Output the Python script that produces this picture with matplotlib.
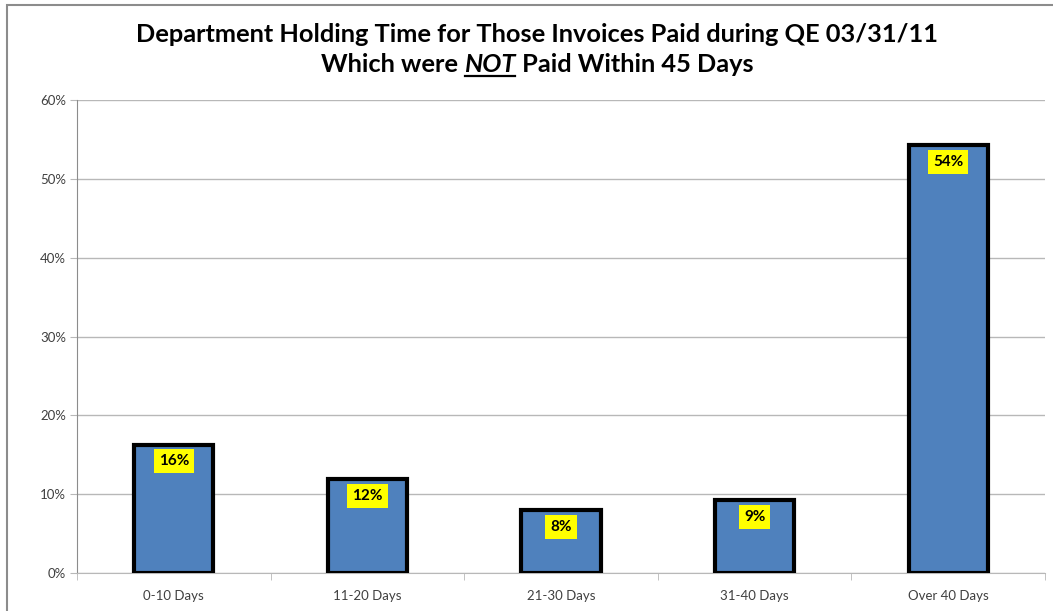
import matplotlib.pyplot as plt
from matplotlib.patches import Rectangle
from matplotlib.ticker import PercentFormatter

# datos del grafico
categorias = ['0-10 Days', '11-20 Days', '21-30 Days', '31-40 Days', 'Over 40 Days']
valores = [16.3, 11.9, 8.0, 9.2, 54.3]
etiquetas = ['16%', '12%', '8%', '9%', '54%']

plt.rcParams['font.family'] = ['Lato', 'DejaVu Sans']

fig = plt.figure(figsize=(10.53, 6.11), dpi=100)
ax = fig.add_axes([77 / 1053, 1 - 573 / 611, (1045 - 77) / 1053, (573 - 100) / 611])

# borde exterior del grafico
fig.patches.append(Rectangle((7 / 1053, -0.05), 1.1, 1 - 5.5 / 611 + 0.05,
                             transform=fig.transFigure, fill=False,
                             edgecolor='#8c8c8c', linewidth=1.5))

x = range(len(categorias))
ax.bar(x, valores, width=0.41, color='#4F81BD', edgecolor='black', linewidth=3, zorder=3)

for i, (v, t) in enumerate(zip(valores, etiquetas)):
    ax.annotate(t, (i, v), xytext=(0, -7), textcoords='offset points',
                ha='center', va='top', fontsize=11, fontweight='bold', color='black',
                bbox=dict(boxstyle='square,pad=0.32', facecolor='#FFFF00', edgecolor='none'),
                zorder=4)

ax.set_xlim(-0.5, len(categorias) - 0.5)
ax.set_ylim(0, 60)
ax.set_yticks(range(0, 61, 10))
ax.yaxis.set_major_formatter(PercentFormatter(decimals=0))
ax.set_xticks(list(x))
ax.set_xticklabels(categorias)
ax.set_xticks([i + 0.5 for i in range(-1, len(categorias))], minor=True)

ax.grid(axis='y', color='#b8b8b8', linewidth=1, zorder=0)
for s in ['top', 'right']:
    ax.spines[s].set_visible(False)
ax.spines['left'].set_color('#8c8c8c')
ax.spines['bottom'].set_color('#b8b8b8')
ax.tick_params(axis='y', length=5, color='#b8b8b8', labelsize=9.5, labelcolor='#404040', pad=3)
ax.tick_params(axis='x', which='major', length=0, labelsize=9.5, labelcolor='#404040', pad=12)
ax.tick_params(axis='x', which='minor', length=5, color='#b8b8b8')

# titulo, la segunda linea por partes para poder subrayar NOT
fig.text(537 / 1053, 1 - 34 / 611, 'Department Holding Time for Those Invoices Paid during QE 03/31/11',
         ha='center', va='center', fontsize=18.3, fontweight='bold')

fig.canvas.draw()
r = fig.canvas.get_renderer()
partes = [('Which were ', 'normal'), ('NOT', 'italic'), (' Paid Within 45 Days', 'normal')]
textos = [fig.text(0, 0, p, fontsize=18.3, fontweight='bold', style=st, va='center') for p, st in partes]
anchos = [t.get_window_extent(r).width for t in textos]
total = sum(anchos)
xpix = 537 - total / 2
ypix = 611 - 64
for t, w in zip(textos, anchos):
    t.set_position((xpix / 1053, ypix / 611))
    xpix += w
# subrayado
x0 = 537 - total / 2 + anchos[0]
fig.add_artist(plt.Line2D([(x0 + 1) / 1053, (x0 + anchos[1] - 1) / 1053],
                          [(ypix - 12) / 611] * 2, color='black', linewidth=1.6,
                          transform=fig.transFigure))

fig.savefig('out.png', dpi=100)
